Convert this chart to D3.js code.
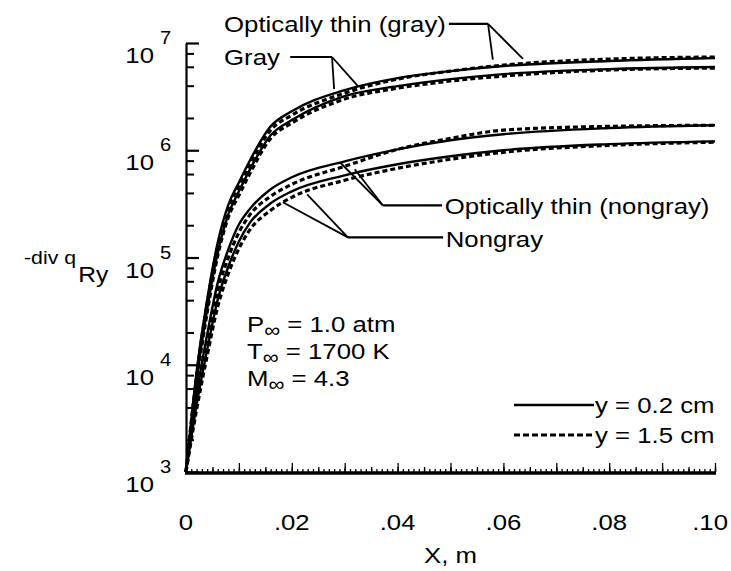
<!DOCTYPE html>
<html>
<head>
<meta charset="utf-8">
<script src="https://cdn.jsdelivr.net/npm/d3@7"></script>
<style>
  body { margin: 0; background: #fff; }
  svg text { font-family: "Liberation Sans", Arial, Helvetica, sans-serif; fill: #000; }
</style>
</head>
<body>
<div id="chart"></div>
<script>
// x positions along the plate (m)
const xValues = [0, 0.002, 0.004, 0.006, 0.008, 0.01, 0.012, 0.016, 0.02, 0.03, 0.04, 0.05, 0.06, 0.08, 0.1];

// -div q_Ry, y = 0.2 cm (solid) and y = 1.5 cm (dashed)
const otGraySolid   = [1e3, 8.6e3, 4.05e4, 1.38e5, 3.1e5, 5.0e5, 7.9e5, 1.67e6, 2.31e6, 3.64e6, 4.71e6, 5.47e6, 6.1e6, 6.8e6, 7.25e6];
const otGrayDashed  = [1e3, 7.9e3, 3.72e4, 1.27e5, 2.87e5, 4.6e5, 7.24e5, 1.54e6, 2.12e6, 3.41e6, 4.61e6, 5.47e6, 6.22e6, 7.08e6, 7.4e6];
const graySolid     = [1e3, 7.2e3, 3.27e4, 1.11e5, 2.52e5, 4.14e5, 6.5e5, 1.38e6, 1.91e6, 3.2e6, 3.96e6, 4.61e6, 5.13e6, 5.71e6, 5.97e6];
const grayDashed    = [1e3, 6.8e3, 3.06e4, 1.04e5, 2.37e5, 3.8e5, 5.97e5, 1.29e6, 1.79e6, 3.0e6, 3.79e6, 4.42e6, 4.92e6, 5.6e6, 5.84e6];
const otNongraySolid  = [1e3, 5.25e3, 1.91e4, 5.83e4, 1.19e5, 2.03e5, 2.81e5, 4.33e5, 5.6e5, 7.88e5, 1.02e6, 1.24e6, 1.41e6, 1.61e6, 1.71e6];
const otNongrayDashed = [1e3, 4.71e3, 1.64e4, 4.92e4, 1.0e5, 1.71e5, 2.47e5, 3.72e5, 4.81e5, 7.08e5, 1.02e6, 1.29e6, 1.54e6, 1.67e6, 1.71e6];
const nongraySolid    = [1e3, 4.23e3, 1.38e4, 4.05e4, 8.24e4, 1.41e5, 2.08e5, 3.2e5, 4.14e5, 5.84e5, 7.4e5, 8.79e5, 1.0e6, 1.14e6, 1.21e6];
const nongrayDashed   = [1e3, 3.8e3, 1.21e4, 3.48e4, 7.08e4, 1.21e5, 1.79e5, 2.75e5, 3.64e5, 5.25e5, 6.79e5, 8.24e5, 9.57e5, 1.11e6, 1.19e6];

// axis ticks
const xTickValues = [0, 0.02, 0.04, 0.06, 0.08, 0.1];
const xTickLabels = ["0", ".02", ".04", ".06", ".08", ".10"];
const yDecades = [1e3, 1e4, 1e5, 1e6, 1e7];
const yExponents = ["3", "4", "5", "6", "7"];
const yMinorMultipliers = [2, 4, 6, 8];

// legend
const legendLabels = ["y = 0.2 cm", "y = 1.5 cm"];

const width = 731, height = 571;
const margin = { top: 43, right: 16, bottom: 99, left: 186 };
const stretch = 1.12; // the scanned lettering is a little wide

const svg = d3.select("#chart").append("svg")
  .attr("width", width)
  .attr("height", height);

// text helper: places a horizontally widened label
function label(g, px, py, size, anchor) {
  return g.append("text")
    .attr("transform", `translate(${px},${py}) scale(${stretch},1)`)
    .attr("text-anchor", anchor || "start")
    .attr("font-size", size);
}

const x = d3.scaleLinear()
  .domain([0, 0.1])
  .range([margin.left, width - margin.right]);

const y = d3.scaleLog()
  .domain([1e3, 1e7])
  .range([height - margin.bottom, margin.top]);

// y axis, ticks pointing into the plot
const yMinor = [];
yDecades.slice(0, -1).forEach(d => yMinorMultipliers.forEach(m => yMinor.push(d * m)));

svg.append("g")
  .attr("transform", `translate(${x(0)},0)`)
  .call(d3.axisRight(y).tickValues(yMinor).tickSize(8).tickSizeOuter(0).tickFormat(""))
  .call(g => g.select(".domain").remove())
  .selectAll("line").attr("stroke-width", 2);

svg.append("g")
  .attr("transform", `translate(${x(0)},0)`)
  .call(d3.axisRight(y).tickValues(yDecades).tickSize(13).tickSizeOuter(0).tickFormat(""))
  .call(g => g.select(".domain").attr("stroke-width", 2.2))
  .selectAll("line").attr("stroke-width", 2.2);

// y tick labels 10^n
const yLab = svg.append("g");
yDecades.forEach((d, i) => {
  label(yLab, x(0) - 32, y(d) + 20, 23, "end").text("10");
  label(yLab, x(0) - 26, y(d) + 1, 18).text(yExponents[i]);
});

// x axis, ticks pointing up
const xMinor = d3.range(0, 101).map(i => i / 1000);
const xMid = d3.range(0, 21).map(i => i / 200);
const xMajor = d3.range(0, 11).map(i => i / 100);

[[xMinor, 3], [xMid, 5], [xMajor, 9]].forEach(([vals, size]) => {
  svg.append("g")
    .attr("transform", `translate(0,${y(1e3)})`)
    .call(d3.axisTop(x).tickValues(vals).tickSize(size).tickSizeOuter(0).tickFormat(""))
    .call(g => g.select(".domain").remove())
    .selectAll("line").attr("stroke-width", 1.3);
});

svg.append("line")
  .attr("x1", x(0) - 1).attr("x2", x(0.1) + 1)
  .attr("y1", y(1e3) + 1).attr("y2", y(1e3) + 1)
  .attr("stroke", "#000")
  .attr("stroke-width", 3.5);

const xLab = svg.append("g");
xTickValues.forEach((d, i) => {
  const last = i === xTickValues.length - 1;
  // the last label sits flush with the right edge, as in the original
  label(xLab, last ? width - 3 : x(d), 530, 23, last ? "end" : "middle").text(xTickLabels[i]);
});

label(svg, (x(0) + x(0.1)) / 2, 563, 23, "middle").text("X, m");

// y axis title
const yTitle = label(svg, 24, 264, 19);
yTitle.append("tspan").text("-div q");
yTitle.append("tspan").attr("dy", 18).attr("dx", 2).attr("font-size", 22).text("Ry");

// curves
const series = [
  { values: otGraySolid, dashed: false },
  { values: otGrayDashed, dashed: true },
  { values: graySolid, dashed: false },
  { values: grayDashed, dashed: true },
  { values: otNongraySolid, dashed: false },
  { values: otNongrayDashed, dashed: true },
  { values: nongraySolid, dashed: false },
  { values: nongrayDashed, dashed: true }
];

const line = d3.line()
  .x(d => x(d[0]))
  .y(d => y(d[1]))
  .curve(d3.curveMonotoneX);

svg.append("g").selectAll("path")
  .data(series)
  .enter().append("path")
  .attr("d", s => line(xValues.map((xv, i) => [xv, s.values[i]])))
  .attr("fill", "none")
  .attr("stroke", "#000")
  .attr("stroke-width", s => s.dashed ? 3.2 : 2.4)
  .attr("stroke-dasharray", s => s.dashed ? "5,3" : null);

// labels with leader lines (data coordinates)
const leaders = [
  { text: "Optically thin (gray)", tx: 0.0072, ty: 1.51e7, start: 0.0497, knee: [0.0571, 1.51e7], ends: [[0.058, 7.0e6], [0.0637, 7.1e6]] },
  { text: "Gray", tx: 0.0072, ty: 7.4e6, start: 0.0197, knee: [0.0276, 7.4e6], ends: [[0.028, 3.72e6], [0.0325, 3.96e6]] },
  { text: "Optically thin (nongray)", tx: 0.0489, ty: 3.0e5, start: 0.0484, knee: [0.0372, 3.06e5], ends: [[0.0291, 7.73e5], [0.0319, 6.64e5]] },
  { text: "Nongray", tx: 0.0491, ty: 1.5e5, start: 0.0486, knee: [0.0306, 1.54e5], ends: [[0.0183, 3.27e5], [0.0229, 3.88e5]] }
];

const ann = svg.append("g");
leaders.forEach(l => {
  label(ann, x(l.tx), y(l.ty) + 8, 23).text(l.text);
  ann.append("line")
    .attr("x1", x(l.start)).attr("y1", y(l.knee[1]))
    .attr("x2", x(l.knee[0])).attr("y2", y(l.knee[1]))
    .attr("stroke", "#000").attr("stroke-width", 2.2);
  l.ends.forEach(e => {
    ann.append("line")
      .attr("x1", x(l.knee[0])).attr("y1", y(l.knee[1]))
      .attr("x2", x(e[0])).attr("y2", y(e[1]))
      .attr("stroke", "#000").attr("stroke-width", 1.8);
  });
});

// free-stream conditions
const cond = [["P", " = 1.0 atm"], ["T", " = 1700 K"], ["M", " = 4.3"]];
cond.forEach((c, i) => {
  const t = label(svg, 247, 332 + i * 27, 23);
  t.append("tspan").text(c[0]);
  t.append("tspan").attr("dy", 5).attr("font-size", 20).text("\u221E");
  t.append("tspan").attr("dy", -5).text(c[1]);
});

// legend
legendLabels.forEach((lab, i) => {
  const ly = 405 + i * 30;
  svg.append("line")
    .attr("x1", 514).attr("x2", 594)
    .attr("y1", ly).attr("y2", ly)
    .attr("stroke", "#000")
    .attr("stroke-width", i === 0 ? 2.4 : 2.8)
    .attr("stroke-dasharray", i === 0 ? null : "6,3");
  label(svg, 595, ly + 8, 23).text(lab);
});
</script>
</body>
</html>
